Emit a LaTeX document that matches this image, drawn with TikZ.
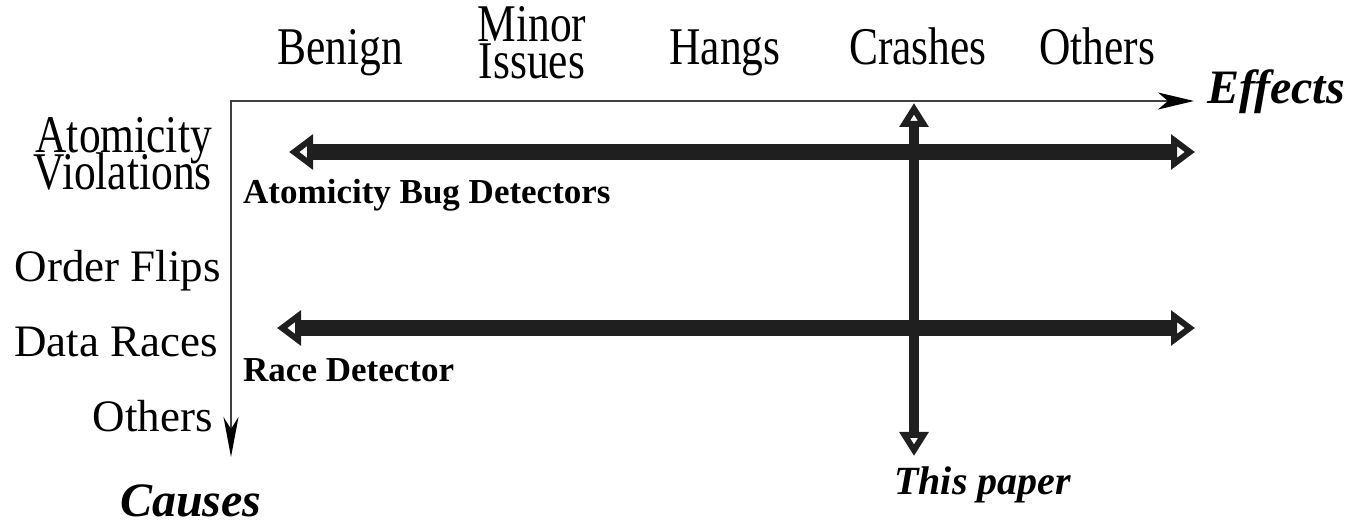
\documentclass[tikz,border=0pt]{standalone}
\usepackage{fontspec}
\setmainfont{Liberation Serif}
\newfontfamily\narrowfont[FakeStretch=0.82]{Liberation Serif}
\newcommand\tightlines{\lineskiplimit=-100pt\relax}
\usetikzlibrary{arrows.meta}

\begin{document}
\begin{tikzpicture}[x=1pt,y=-1pt,
  collabel/.style={inner sep=0pt, align=center,
    font=\narrowfont\fontsize{53}{37}\selectfont\tightlines},
  rowlabel/.style={anchor=base east, inner sep=0pt, font=\fontsize{45}{45}\selectfont},
  axislabel/.style={inner sep=0pt, font=\fontsize{48}{48}\selectfont\bfseries\itshape},
  toollabel/.style={anchor=base west, inner sep=0pt, font=\fontsize{35}{35}\selectfont\bfseries},
  axisline/.style={line width=2pt, draw=black!75,
    {Stealth[length=40pt,width=15pt,inset=12pt,black]}-{Stealth[length=36pt,width=17pt,inset=10pt,black]}},
  rangeline/.style={line width=16pt, draw=black!88,
    {Triangle[open,length=24pt,width=34pt,line width=10pt]}-{Triangle[open,length=24pt,width=34pt,line width=10pt]}},
  paperline/.style={line width=10pt, draw=black!88,
    {Triangle[open,length=24pt,width=28pt,line width=8.5pt]}-{Triangle[open,length=24pt,width=28pt,line width=8.5pt]}}]
\useasboundingbox (0,0) rectangle (1353,526);

% axes
\coordinate (origin) at (231,101);
\coordinate (effend) at (1194,101);
\coordinate (causend) at (231,457);
\draw[axisline] (causend) |- (effend);
\node[axislabel, anchor=base west] (effects) at (1207,104) {Effects};
\node[axislabel, anchor=base west] (causes) at (120,517) {Causes};

% effects
\node[collabel, anchor=base] (benign) at (340,65) {Benign};
\node[collabel, anchor=south] (minor) at (532,79) {Minor\\Issues};
\node[collabel, anchor=base] (hangs) at (725,65) {Hangs};
\node[collabel, anchor=base] (crashes) at (918,65) {Crashes};
\node[collabel, anchor=base] (othereff) at (1097,65) {Others};

% causes
\node[collabel, align=right, anchor=south east] (atomic) at (212,191) {Atomicity\\Violations};
\node[rowlabel] (order) at (221,282) {Order Flips};
\node[rowlabel] (races) at (218,357) {Data Races};
\node[rowlabel] (othercause) at (213,432) {Others};

% tools
\coordinate (atomL) at (289,152);
\coordinate (atomR) at (1195,152);
\coordinate (raceL) at (277,328);
\coordinate (raceR) at (1195,328);
\coordinate (paperT) at (914,103);
\coordinate (paperB) at (914,456);
\draw[rangeline] (atomL) -- (atomR);
\draw[rangeline] (raceL) -- (raceR);
\draw[paperline] (paperB) -- (paperT);
\node[toollabel] (atomtool) at (243,204) {Atomicity Bug Detectors};
\node[toollabel] (racetool) at (243,382) {Race Detector};
\node[axislabel, font=\fontsize{40}{40}\selectfont\bfseries\itshape, anchor=base west] (paper) at (894,495) {This paper};
\end{tikzpicture}
\end{document}
